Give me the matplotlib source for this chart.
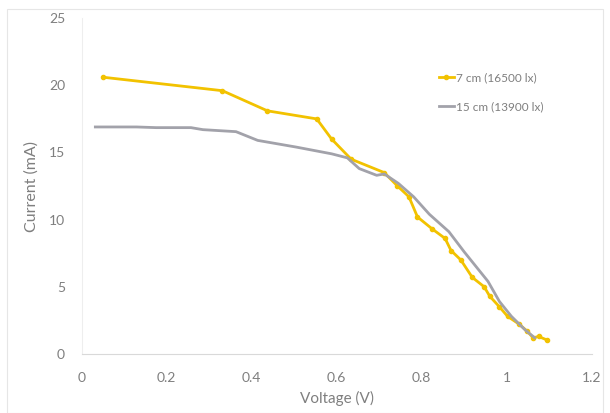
import matplotlib.pyplot as plt
from matplotlib.patches import Rectangle

# 7 cm (16500 lx)
v_7cm = [0.051, 0.331, 0.437, 0.553, 0.588, 0.634, 0.712, 0.743, 0.770, 0.790,
         0.825, 0.855, 0.869, 0.892, 0.919, 0.947, 0.960, 0.983, 1.002, 1.030,
         1.048, 1.062, 1.075, 1.094]
i_7cm = [20.6, 19.6, 18.1, 17.5, 16.0, 14.5, 13.5, 12.5, 11.7, 10.2,
         9.3, 8.6, 7.7, 7.0, 5.7, 5.0, 4.3, 3.5, 2.8, 2.2,
         1.7, 1.2, 1.3, 1.05]

# 15 cm (13900 lx)
v_15cm = [0.032, 0.129, 0.175, 0.257, 0.285, 0.363, 0.414, 0.505, 0.588, 0.625,
          0.653, 0.694, 0.712, 0.745, 0.781, 0.818, 0.864, 0.900, 0.956, 0.983,
          1.011, 1.043, 1.066]
i_15cm = [16.9, 16.9, 16.85, 16.85, 16.7, 16.55, 15.9, 15.4, 14.9, 14.6,
          13.8, 13.3, 13.4, 12.7, 11.7, 10.4, 9.1, 7.6, 5.4, 3.9,
          2.8, 1.8, 1.2]

labels = ['7 cm (16500 lx)', '15 cm (13900 lx)']
x_ticks = [0, 0.2, 0.4, 0.6, 0.8, 1.0, 1.2]
x_ticklabels = ['0', '0.2', '0.4', '0.6', '0.8', '1', '1.2']
y_ticks = [0, 5, 10, 15, 20, 25]

plt.rcParams['font.family'] = ['Lato', 'DejaVu Sans']
txt = '#7f7f7f'

fig = plt.figure(figsize=(6.1, 4.13), dpi=100)
ax = fig.add_axes([0.134, 0.143, 0.836, 0.813])

# cadre léger autour du graphique
fig.patches.append(Rectangle((0.011, 0.0), 0.978, 0.978, transform=fig.transFigure,
                             fill=False, edgecolor='#e6e6e6', linewidth=0.8))

ax.plot(v_7cm, i_7cm, color='#f2c200', linewidth=2, marker='o', markersize=3,
        label=labels[0])
ax.plot(v_15cm, i_15cm, color='#a2a2aa', linewidth=2, label=labels[1])

ax.set_xlim(0, 1.2)
ax.set_ylim(0, 25)
ax.set_xticks(x_ticks)
ax.set_xticklabels(x_ticklabels)
ax.set_yticks(y_ticks)
ax.tick_params(length=0, labelsize=10, colors=txt)
ax.tick_params(axis='x', pad=13)
ax.tick_params(axis='y', pad=12)

for s in ['top', 'right']:
    ax.spines[s].set_visible(False)
ax.spines['bottom'].set_color('#d9d9d9')
ax.spines['left'].set_color('#eeeeee')

ax.set_xlabel('Voltage (V)', fontsize=11, color=txt, labelpad=5)
ax.set_ylabel('Current (mA)', fontsize=11.5, color=txt, labelpad=7)

leg = ax.legend(loc='upper left', bbox_to_anchor=(0.70, 0.838), frameon=False,
                fontsize=8.5, handlelength=1.3, handletextpad=0.15,
                labelspacing=1.5, labelcolor=txt, borderpad=0, borderaxespad=0)

fig.savefig('out.png', dpi=100)
